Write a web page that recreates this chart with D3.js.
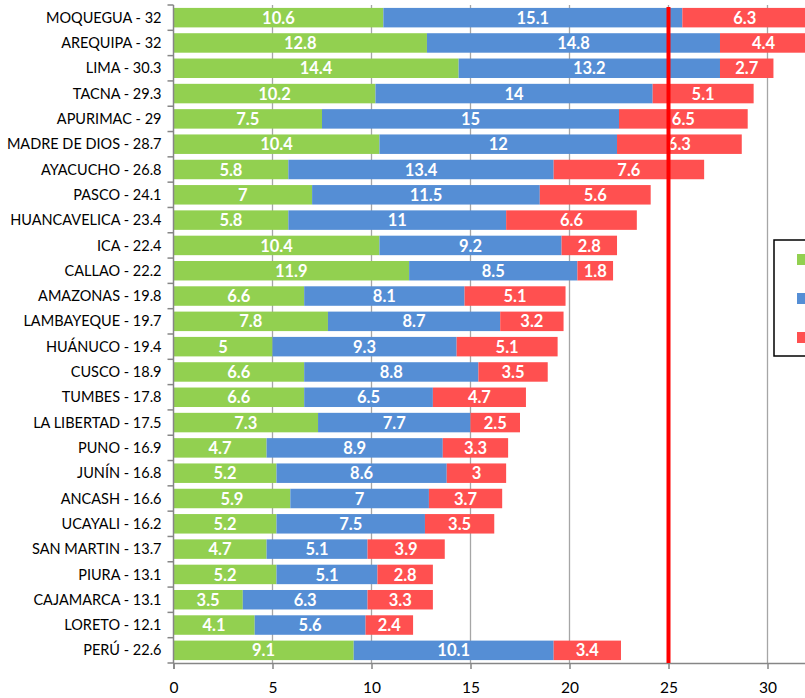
<!DOCTYPE html>
<html><head><meta charset="utf-8">
<script src="https://cdn.jsdelivr.net/npm/d3@7"></script>
<style>body{margin:0;background:#fff}svg{display:block}</style>
</head><body><svg id="c" width="805" height="698"></svg>
<script>
const categories = ["MOQUEGUA - 32","AREQUIPA - 32","LIMA - 30.3","TACNA - 29.3","APURIMAC - 29","MADRE DE DIOS - 28.7","AYACUCHO - 26.8","PASCO - 24.1","HUANCAVELICA - 23.4","ICA - 22.4","CALLAO - 22.2","AMAZONAS - 19.8","LAMBAYEQUE - 19.7","HUÁNUCO - 19.4","CUSCO - 18.9","TUMBES - 17.8","LA LIBERTAD - 17.5","PUNO - 16.9","JUNÍN - 16.8","ANCASH - 16.6","UCAYALI - 16.2","SAN MARTIN - 13.7","PIURA - 13.1","CAJAMARCA - 13.1","LORETO - 12.1","PERÚ - 22.6"];
const seriesA = [10.6,12.8,14.4,10.2,7.5,10.4,5.8,7,5.8,10.4,11.9,6.6,7.8,5,6.6,6.6,7.3,4.7,5.2,5.9,5.2,4.7,5.2,3.5,4.1,9.1];
const seriesB = [15.1,14.8,13.2,14,15,12,13.4,11.5,11,9.2,8.5,8.1,8.7,9.3,8.8,6.5,7.7,8.9,8.6,7,7.5,5.1,5.1,6.3,5.6,10.1];
const seriesC = [6.3,4.4,2.7,5.1,6.5,6.3,7.6,5.6,6.6,2.8,1.8,5.1,3.2,5.1,3.5,4.7,2.5,3.3,3,3.7,3.5,3.9,2.8,3.3,2.4,3.4];
const xTicks = [0,5,10,15,20,25,30];
const gridTicks = [5,10,15,20,25,30,35];
const refValue = 25;

const colors = ["#92D050","#558ED5","#FF5050"];
const svg = d3.select("#c");
const font = "Lato, 'Open Sans', sans-serif";

const x = d3.scaleLinear().domain([0,35]).range([173.5, 866.5]);
const y = d3.scaleBand().domain(categories).range([5, 663]).paddingInner(0.23).paddingOuter(0.115);

// gridlines
svg.append("g").selectAll("line").data(gridTicks).join("line")
  .attr("x1", d=>x(d)).attr("x2", d=>x(d)).attr("y1", 5).attr("y2", 663)
  .attr("stroke", "#A6A6A6").attr("stroke-width", 1.3);

// stacked data
const keys = ["a","b","c"];
const rows = categories.map((c,i)=>({cat:c, a:seriesA[i], b:seriesB[i], c:seriesC[i]}));
const stack = d3.stack().keys(keys)(rows);

const gBars = svg.append("g");
stack.forEach((layer, li) => {
  const g = gBars.append("g");
  g.selectAll("rect").data(layer).join("rect")
    .attr("x", d=>x(d[0])).attr("width", d=>x(d[1])-x(d[0]))
    .attr("y", d=>y(d.data.cat)).attr("height", y.bandwidth())
    .attr("fill", colors[li]);
  g.selectAll("text").data(layer).join("text")
    .attr("x", d=>(x(d[0])+x(d[1]))/2)
    .attr("y", d=>y(d.data.cat)+y.bandwidth()/2)
    .attr("dy", "0.37em")
    .attr("text-anchor","middle")
    .attr("fill","#fff").attr("font-weight","bold")
    .attr("font-family", font).attr("font-size", 16.5)
    .text(d=>d.data[keys[li]]);
});

// y axis labels
const yAxis = d3.axisLeft(y).tickSize(6).tickPadding(6);
const gy = svg.append("g").attr("transform","translate(173.5,0)").call(yAxis);
gy.select(".domain").remove();
gy.selectAll(".tick line").remove();
gy.selectAll(".tick text").attr("font-family", font).attr("font-size", 14.5).attr("fill","#000").attr("dy","0.35em");
// left axis line and boundary ticks
const bounds = d3.range(categories.length+1).map(i=> i===categories.length ? 663 : y(categories[i]) - y.step()*y.paddingInner()/2);
svg.append("line").attr("x1",173.5).attr("x2",173.5).attr("y1",5).attr("y2",663).attr("stroke","#868686").attr("stroke-width",1.5);
svg.append("g").selectAll("line").data(bounds).join("line")
  .attr("x1",167.5).attr("x2",173.5).attr("y1",d=>d).attr("y2",d=>d)
  .attr("stroke","#868686").attr("stroke-width",1.5);

const xAxis = d3.axisBottom(x).tickValues(xTicks).tickSize(6).tickPadding(13);
const gx = svg.append("g").attr("transform","translate(0,663)").call(xAxis);
gx.select(".domain").attr("stroke","#868686").attr("stroke-width",1.5);
gx.selectAll(".tick line").attr("stroke","#868686").attr("stroke-width",1.5);
gx.selectAll(".tick text").attr("font-family", font).attr("font-size", 15.5).attr("fill","#000");

// reference line
svg.append("line").attr("x1",x(refValue)).attr("x2",x(refValue)).attr("y1",7).attr("y2",663)
  .attr("stroke","#FF0000").attr("stroke-width",4);

// legend (its labels fall outside the visible frame)
const lg = svg.append("g").attr("transform","translate(774,240)");
lg.append("rect").attr("width",120).attr("height",116).attr("fill","#fff").attr("stroke","#000").attr("stroke-width",1.5);
lg.selectAll("rect.sw").data(colors).join("rect").attr("class","sw")
  .attr("x",23).attr("y",(d,i)=>14+i*39).attr("width",11).attr("height",11)
  .attr("fill",d=>d);
</script></body></html>
